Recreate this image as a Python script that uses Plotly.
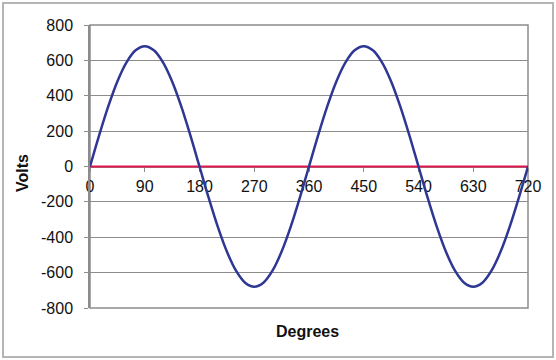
import plotly.graph_objects as go

degrees = [0, 15, 30, 45, 60, 75, 90, 105, 120, 135, 150, 165, 180,
           195, 210, 225, 240, 255, 270, 285, 300, 315, 330, 345, 360,
           375, 390, 405, 420, 435, 450, 465, 480, 495, 510, 525, 540,
           555, 570, 585, 600, 615, 630, 645, 660, 675, 690, 705, 720]
volts = [0, 176, 340, 481, 589, 657, 680, 657, 589, 481, 340, 176, 0,
         -176, -340, -481, -589, -657, -680, -657, -589, -481, -340, -176, 0,
         176, 340, 481, 589, 657, 680, 657, 589, 481, 340, 176, 0,
         -176, -340, -481, -589, -657, -680, -657, -589, -481, -340, -176, 0]
current = [0] * len(degrees)

x_ticks = [0, 90, 180, 270, 360, 450, 540, 630, 720]
y_ticks = [-800, -600, -400, -200, 0, 200, 400, 600, 800]

FONT = "Arial"
GRID = "#8c8c8c"

fig = go.Figure()
fig.add_trace(go.Scatter(x=degrees, y=current, mode="lines",
                         line=dict(color="#e2174b", width=2.2), showlegend=False))
fig.add_trace(go.Scatter(x=degrees, y=volts, mode="lines",
                         line=dict(color="#2e3793", width=2.5, shape="spline", smoothing=1.0),
                         showlegend=False))

fig.update_layout(
    width=556, height=360,
    margin=dict(l=90, r=28, t=25, b=52),
    paper_bgcolor="white", plot_bgcolor="white",
    font=dict(family=FONT, size=16, color="#111111"),
    xaxis=dict(range=[0, 720], tickvals=x_ticks, ticktext=[str(v) for v in x_ticks],
               anchor="free", position=0.5, showgrid=False, zeroline=False,
               showline=True, linecolor=GRID, linewidth=1, layer="below traces",
               ticks="outside", ticklen=4, tickcolor=GRID, ticklabelstandoff=1,
               tickfont=dict(family=FONT, size=16, color="#111111")),
    yaxis=dict(range=[-800, 800], tickvals=y_ticks, ticktext=[str(v) for v in y_ticks],
               showgrid=True, gridcolor=GRID, gridwidth=1, zeroline=False,
               showline=True, linecolor=GRID, linewidth=1.5,
               ticks="outside", ticklen=4, tickcolor=GRID, ticklabelstandoff=8,
               tickfont=dict(family=FONT, size=16, color="#111111")),
    shapes=[
        dict(type="rect", xref="paper", yref="paper", x0=0, x1=1, y0=0, y1=1,
             line=dict(color=GRID, width=1.5), layer="below"),
        dict(type="rect", xref="paper", yref="paper",
             x0=(3 - 90) / 438, x1=(553 - 90) / 438,
             y0=(308 - 357) / 283, y1=(308 - 3) / 283,
             line=dict(color="#b5b5b5", width=2), layer="below"),
    ],
    annotations=[
        dict(text="<b>Degrees</b>", xref="paper", yref="paper",
             x=(307 - 90) / 438, y=(308 - 331) / 283, showarrow=False,
             font=dict(family=FONT, size=16, color="#111111"),
             xanchor="center", yanchor="middle"),
        dict(text="<b>Volts</b>", xref="paper", yref="paper",
             x=(23 - 90) / 438, y=(308 - 173) / 283, showarrow=False, textangle=-90,
             font=dict(family=FONT, size=16, color="#111111"),
             xanchor="center", yanchor="middle"),
    ],
)

fig.write_html("out.html", config={"displayModeBar": False},
               post_script="document.body.style.margin='0';document.body.style.padding='0';")
